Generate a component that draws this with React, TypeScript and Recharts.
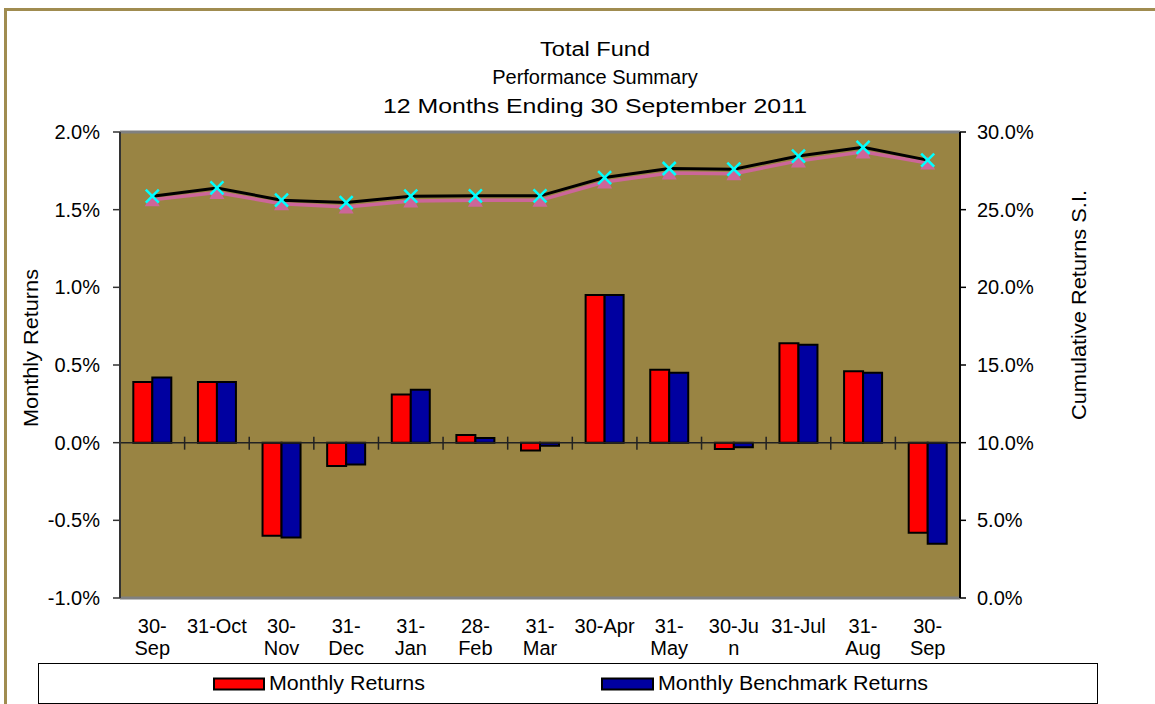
import React from "react";
import {
  ComposedChart,
  Bar,
  Line,
  XAxis,
  YAxis,
  CartesianGrid,
  ReferenceLine
} from "recharts";

const categories = [
  "30-Sep-10", "31-Oct-10", "30-Nov-10", "31-Dec-10", "31-Jan-11", "28-Feb-11", "31-Mar-11",
  "30-Apr-11", "31-May-11", "30-Jun-11", "31-Jul-11", "31-Aug-11", "30-Sep-11"
];
// how the labels wrap in the original
const tickLabels = [
  ["30-", "Sep"], ["31-Oct"], ["30-", "Nov"], ["31-", "Dec"], ["31-", "Jan"], ["28-", "Feb"], ["31-", "Mar"],
  ["30-Apr"], ["31-", "May"], ["30-Ju", "n"], ["31-Jul"], ["31-", "Aug"], ["30-", "Sep"]
];
const monthlyReturns = [0.39, 0.39, -0.6, -0.15, 0.31, 0.05, -0.05, 0.95, 0.47, -0.04, 0.64, 0.46, -0.58];
const benchmarkReturns = [0.42, 0.39, -0.61, -0.14, 0.34, 0.03, -0.02, 0.95, 0.45, -0.03, 0.63, 0.45, -0.65];
const cumulativeFund = [25.87, 26.4, 25.61, 25.46, 25.87, 25.89, 25.89, 27.07, 27.65, 27.61, 28.45, 29.01, 28.19];
const cumulativeBenchmark = [25.64, 26.11, 25.38, 25.17, 25.56, 25.6, 25.6, 26.78, 27.36, 27.32, 28.14, 28.72, 28.0];
const leftTicks = [-1, -0.5, 0, 0.5, 1, 1.5, 2];
const rightTicks = [0, 5, 10, 15, 20, 25, 30];
const titleLines = ["Total Fund", "Performance Summary", "12 Months Ending 30 September 2011"];
const seriesNames = ["Monthly Returns", "Monthly Benchmark Returns"];

const data = categories.map((cat, i) => ({
  cat,
  monthly: monthlyReturns[i],
  bench: benchmarkReturns[i],
  cumFund: cumulativeFund[i],
  cumBench: cumulativeBenchmark[i]
}));

const FONT = "'Liberation Sans', Arial, sans-serif";
const PLOT_BG = "#998443";
const RED = "#ff0000";
const BLUE = "#0000a0";
const PINK = "#cc6699";
const CYAN = "#00ffff";

const pct = (v: number) => v.toFixed(1) + "%";

function XTick(props: any) {
  const { x, y, payload, index } = props;
  const lines = tickLabels[payload?.index ?? index] || [];
  return (
    <text x={x} y={y} textAnchor="middle" fontFamily={FONT} fontSize={20} fill="#000">
      {lines.map((l, i) => (
        <tspan key={i} x={x} dy={i === 0 ? 27 : 22}>{l}</tspan>
      ))}
    </text>
  );
}

function ZeroAxis(props: any) {
  const { x1, x2, y1 } = props;
  if (x1 == null) return <g />;
  const step = (x2 - x1) / categories.length;
  return (
    <g>
      <line x1={x1} x2={x2} y1={y1} y2={y1} stroke="#222" strokeWidth={1.5} />
      {categories.slice(1).map((c, i) => (
        <line key={c} x1={x1 + step * (i + 1)} x2={x1 + step * (i + 1)} y1={y1 - 6} y2={y1 + 7} stroke="#222" strokeWidth={1.5} />
      ))}
    </g>
  );
}

function CrossDot(props: any) {
  const { cx, cy, index } = props;
  if (cx == null || cy == null) return <g key={`x-${index}`} />;
  const s = 6.5;
  return (
    <path
      key={`x-${index}`}
      d={`M${cx - s},${cy - s}L${cx + s},${cy + s}M${cx - s},${cy + s}L${cx + s},${cy - s}`}
      stroke={CYAN}
      strokeWidth={2.5}
      fill="none"
    />
  );
}

function TriangleDot(props: any) {
  const { cx, cy, index } = props;
  if (cx == null || cy == null) return <g key={`t-${index}`} />;
  return (
    <path
      key={`t-${index}`}
      d={`M${cx},${cy - 6.5}L${cx + 7.5},${cy + 6.5}L${cx - 7.5},${cy + 6.5}Z`}
      fill={PINK}
      stroke="none"
    />
  );
}

export default function App() {
  return (
    <div style={{ position: "absolute", left: 0, top: 0, width: 1155, height: 704, background: "#fff", overflow: "hidden" }}>
      {/* outer frame, runs off the right and bottom edge */}
      <div style={{ position: "absolute", left: 4, top: 8, width: 1200, height: 750, border: "3px solid #a08c50", boxSizing: "border-box" }} />

      <div style={{ position: "absolute", left: 0, top: 0 }}>
        <ComposedChart
          width={1155}
          height={704}
          data={data}
          margin={{ top: 132, left: 40, right: 75, bottom: 46 }}
          barCategoryGap="20.6%"
          barGap={0}
        >
          <CartesianGrid fill={PLOT_BG} fillOpacity={1} stroke="none" horizontal={false} vertical={false} yAxisId="left" />
          <XAxis
            dataKey="cat"
            interval={0}
            axisLine={false}
            tickLine={false}
            height={60}
            tick={<XTick />}
          />
          <YAxis
            yAxisId="left"
            domain={[-1, 2]}
            ticks={leftTicks}
            tickFormatter={pct}
            width={80}
            tickSize={7}
            tickMargin={13}
            axisLine={{ stroke: "#333", strokeWidth: 2 }}
            tickLine={{ stroke: "#333", strokeWidth: 1.5 }}
            tick={{ fill: "#000", fontSize: 20, fontFamily: FONT }}
          />
          <YAxis
            yAxisId="right"
            orientation="right"
            domain={[0, 30]}
            ticks={rightTicks}
            tickFormatter={pct}
            width={120}
            tickSize={6}
            tickMargin={11}
            axisLine={{ stroke: "#000", strokeWidth: 2 }}
            tickLine={{ stroke: "#000", strokeWidth: 1.5 }}
            tick={{ fill: "#000", fontSize: 20, fontFamily: FONT }}
          />
          <Bar yAxisId="left" dataKey="monthly" name={seriesNames[0]} fill={RED} stroke="#000" strokeWidth={2} isAnimationActive={false} />
          <Bar yAxisId="left" dataKey="bench" name={seriesNames[1]} fill={BLUE} stroke="#000" strokeWidth={2} isAnimationActive={false} />
          <ReferenceLine yAxisId="left" y={0} shape={<ZeroAxis />} />
          <ReferenceLine yAxisId="left" y={2} stroke="#808080" strokeWidth={3} />
          <ReferenceLine yAxisId="left" y={-1} stroke="#808080" strokeWidth={3} />
          <Line
            yAxisId="right"
            dataKey="cumBench"
            stroke={PINK}
            strokeWidth={3.5}
            dot={TriangleDot}
            activeDot={false}
            isAnimationActive={false}
          />
          <Line
            yAxisId="right"
            dataKey="cumFund"
            stroke="#000"
            strokeWidth={3}
            dot={CrossDot}
            activeDot={false}
            isAnimationActive={false}
          />
        </ComposedChart>
      </div>

      {/* titles */}
      <svg width={1155} height={704} style={{ position: "absolute", left: 0, top: 0, pointerEvents: "none" }}>
        <g fontFamily={FONT} fontSize={20} fill="#000" textAnchor="middle">
          <text x={595} y={56} textLength={110} lengthAdjust="spacingAndGlyphs">{titleLines[0]}</text>
          <text x={595} y={84}>{titleLines[1]}</text>
          <text x={595} y={112.5} textLength={424} lengthAdjust="spacingAndGlyphs">{titleLines[2]}</text>
          <text transform="translate(38,348) rotate(-90)" textLength={158} lengthAdjust="spacingAndGlyphs">Monthly Returns</text>
          <text transform="translate(1086,305) rotate(-90)" textLength={230} lengthAdjust="spacingAndGlyphs">Cumulative Returns S.I.</text>
        </g>
      </svg>

      {/* legend */}
      <div style={{ position: "absolute", left: 38, top: 663, width: 1060, height: 41, border: "1px solid #000", boxSizing: "border-box", background: "#fff" }} />
      <svg width={1155} height={704} style={{ position: "absolute", left: 0, top: 0, pointerEvents: "none" }}>
        <rect x={214} y={678.5} width={50} height={11} fill={RED} stroke="#000" strokeWidth={2} />
        <text x={269} y={690} fontFamily={FONT} fontSize={20} fill="#000" textLength={156} lengthAdjust="spacingAndGlyphs">{seriesNames[0]}</text>
        <rect x={602} y={678.5} width={51} height={11} fill={BLUE} stroke="#000" strokeWidth={2} />
        <text x={658} y={690} fontFamily={FONT} fontSize={20} fill="#000" textLength={270} lengthAdjust="spacingAndGlyphs">{seriesNames[1]}</text>
      </svg>
    </div>
  );
}
